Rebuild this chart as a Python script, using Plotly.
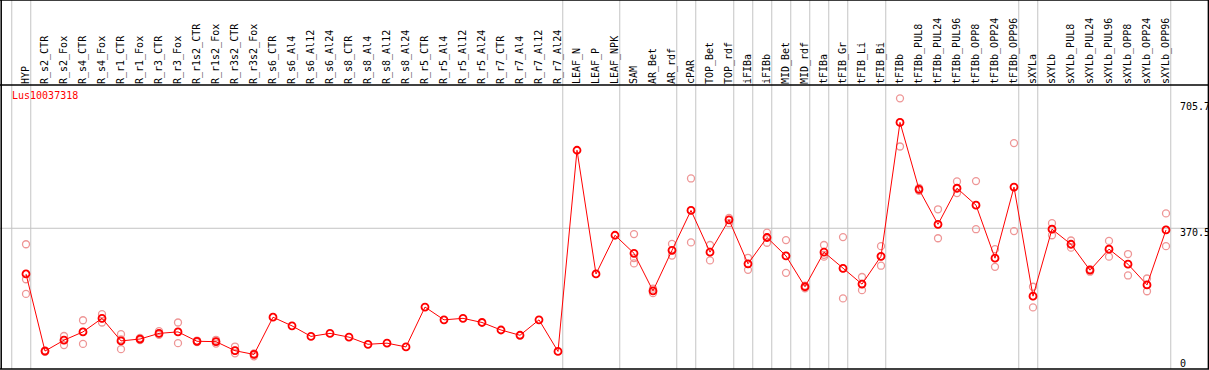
import plotly.graph_objects as go

categories = ["HYP", "R_s2_CTR", "R_s2_Fox", "R_s4_CTR", "R_s4_Fox", "R_r1_CTR", "R_r1_Fox",
              "R_r3_CTR", "R_r3_Fox", "R_r1s2_CTR", "R_r1s2_Fox", "R_r3s2_CTR", "R_r3s2_Fox",
              "R_s6_CTR", "R_s6_Al4", "R_s6_Al12", "R_s6_Al24", "R_s8_CTR", "R_s8_Al4", "R_s8_Al12",
              "R_s8_Al24", "R_r5_CTR", "R_r5_Al4", "R_r5_Al12", "R_r5_Al24", "R_r7_CTR", "R_r7_Al4",
              "R_r7_Al12", "R_r7_Al24", "LEAF_N", "LEAF_P", "LEAF_NPK", "SAM", "AR_Bet", "AR_rdf",
              "cPAR", "TOP_Bet", "TOP_rdf", "iFIBa", "iFIBb", "MID_Bet", "MID_rdf", "tFIBa",
              "tFIB_Gr", "tFIB_Li", "tFIB_Bi", "tFIBb", "tFIBb_PUL8", "tFIBb_PUL24", "tFIBb_PUL96",
              "tFIBb_OPP8", "tFIBb_OPP24", "tFIBb_OPP96", "sXYLa", "sXYLb", "sXYLb_PUL8",
              "sXYLb_PUL24", "sXYLb_PUL96", "sXYLb_OPP8", "sXYLb_OPP24", "sXYLb_OPP96"]

mean_values = [249, 44, 73, 95, 131, 71, 76, 91, 95, 70, 69, 45, 35,
               134, 111, 83, 91, 81, 62, 65, 55, 161, 127, 131, 120, 100, 86, 127, 43,
               578, 249, 352, 304, 204, 312, 418, 307, 393, 276, 346, 297, 215, 307,
               264, 222, 296, 652, 474, 381, 477, 432, 291, 480, 190, 368, 328,
               259, 315, 275, 220, 366]

N = None
rep1 = [328, 46, 84, 126, 142, 89, 79, 97, 120, 72, 74, 56, 38,
        N, N, N, N, N, N, N, N, N, N, N, N, N, N, N, N, N, N, N,
        355, 210, 329, 503, 326, 398, 292, 359, 339, 218, 326, 347, 241, 323,
        716, 478, 421, 495, 496, 315, 597, 215, 384, 338, 262, 337, 302, 237, 410]
rep2 = [235, 44, 73, 95, 131, 75, 76, 91, 95, 70, 69, 45, 35,
        N, N, N, N, N, N, N, N, N, N, N, N, N, N, N, N, N, N, N,
        291, 204, 312, 418, 307, 393, 276, 346, 297, 215, 300, 264, 222, 296,
        652, 474, 381, 477, 432, 291, 480, 190, 368, 328, 259, 315, 275, 220, 366]
rep3 = [196, 42, 60, 63, 120, 49, 73, 87, 65, 68, 64, 38, 30,
        N, N, N, N, N, N, N, N, N, N, N, N, N, N, N, N, N, N, N,
        277, 198, 298, 333, 285, 384, 260, 332, 252, 211, 295, 184, 206, 271,
        588, 470, 344, 464, 368, 268, 363, 160, 352, 319, 255, 295, 245, 203, 323]

# categories after which a group separator is drawn (None = before the first)
group_ends = [None, "HYP", "R_r7_Al24", "LEAF_NPK", "AR_rdf", "cPAR", "TOP_rdf", "iFIBa",
              "iFIBb", "MID_Bet", "MID_rdf", "tFIBa", "tFIB_Gr", "tFIB_Bi", "tFIBb_OPP96",
              "sXYLa", "sXYLb_OPP96"]

ytick_vals = [0, 370.5, 705.7]
gene_name = "Lus10037318"

W, H = 1209, 370
TOP, BOT = 85, 1
plot_h = H - TOP - BOT
x0_px, step_px = 26.0, 19.0
y_range = [-3.7, 751.5]

idx = list(range(len(categories)))
FONT = "DejaVu Sans Mono"

fig = go.Figure()
rep_color = "rgb(238,150,150)"
for reps in (rep1, rep2, rep3):
    fig.add_trace(go.Scatter(
        x=idx, y=reps, mode="markers",
        marker=dict(symbol="circle-open", size=7, color=rep_color, line=dict(width=1.3, color=rep_color)),
        hoverinfo="skip", showlegend=False))

fig.add_trace(go.Scatter(
    x=idx, y=mean_values, mode="lines+markers",
    line=dict(color="#ff0000", width=1),
    marker=dict(symbol="circle-open", size=7, color="#ff0000", line=dict(width=1.8, color="#ff0000")),
    showlegend=False))

shapes = []
top_paper = (H - BOT) / plot_h
for g in group_ends:
    xi = (-1 if g is None else categories.index(g)) + 0.25
    shapes.append(dict(type="line", xref="x", yref="paper", x0=xi, x1=xi, y0=0, y1=top_paper,
                       line=dict(color="#c4c4c4", width=1), layer="below"))
# grid line at middle tick
shapes.append(dict(type="line", xref="paper", yref="y", x0=0, x1=1, y0=ytick_vals[1], y1=ytick_vals[1],
                   line=dict(color="#c4c4c4", width=1), layer="below"))
# frame
blk = dict(color="black", width=1.5)
shapes += [
    dict(type="line", xref="paper", yref="paper", x0=0, x1=1, y0=1, y1=1, line=blk),
    dict(type="line", xref="paper", yref="paper", x0=0, x1=1, y0=0, y1=0, line=blk),
    dict(type="line", xref="paper", yref="paper", x0=0, x1=1, y0=top_paper, y1=top_paper, line=blk),
    dict(type="line", xref="paper", yref="paper", x0=0.001, x1=0.001, y0=0, y1=top_paper, line=blk),
    dict(type="line", xref="paper", yref="paper", x0=0.9995, x1=0.9995, y0=0, y1=top_paper, line=blk),
]

annotations = []
for v in ytick_vals:
    annotations.append(dict(x=1178 / W, xref="paper", y=max(v, 15), yref="y", text=f"{v:g}",
                            xanchor="left", yanchor="middle", yshift=-4 if v else -2,
                            showarrow=False, font=dict(family=FONT, size=10, color="black")))
annotations.append(dict(x=10 / W, xref="paper", y=(H - BOT - 96) / plot_h, yref="paper", text=gene_name,
                        xanchor="left", yanchor="middle", showarrow=False,
                        font=dict(family=FONT, size=10, color="#ff0000")))

fig.update_layout(
    width=W, height=H,
    margin=dict(l=0, r=0, t=TOP, b=BOT, pad=0),
    paper_bgcolor="white", plot_bgcolor="white",
    xaxis=dict(range=[-x0_px / step_px, (W - x0_px) / step_px], side="top",
               tickmode="array", tickvals=idx, ticktext=categories, tickangle=-90,
               tickfont=dict(family=FONT, size=10, color="black"),
               showgrid=False, zeroline=False, showline=False, ticks="", fixedrange=True),
    yaxis=dict(range=y_range, showgrid=False, zeroline=False, showticklabels=False,
               showline=False, ticks=""),
    shapes=shapes, annotations=annotations,
)

fig.write_html("out.html", config={"displayModeBar": False},
               post_script="document.body.style.margin='0px';document.body.style.overflow='hidden';")
